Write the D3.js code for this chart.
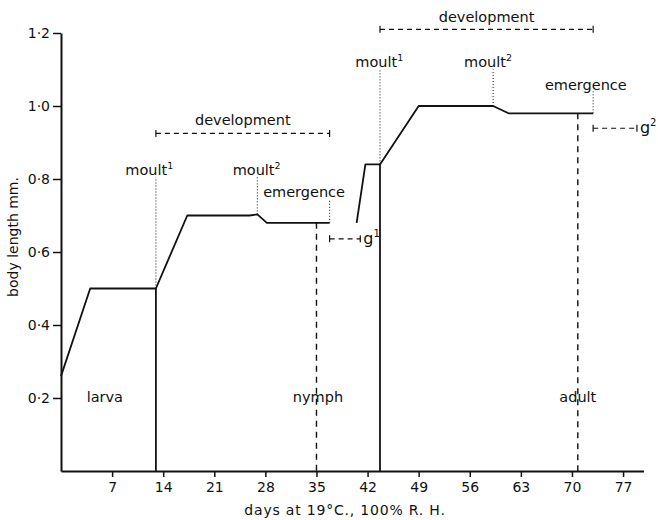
<!DOCTYPE html>
<html>
<head>
<meta charset="utf-8">
<script src="https://cdn.jsdelivr.net/npm/d3@7"></script>
<style>
	body { margin: 0; background: #fff; }
	svg text { font-family: "DejaVu Sans", sans-serif; fill: #111; }
</style>
</head>
<body>
<svg id="chart" width="658" height="520"></svg>
<script>
// growth curve, first stage (larva -> nymph)
const daysA = [0, 4, 13, 17.3, 25.8, 26.9, 28.2, 36.8];
const lengthA = [0.26, 0.5, 0.5, 0.7, 0.7, 0.703, 0.68, 0.68];
// growth curve, second stage (nymph -> adult)
const daysB = [40.5, 41.7, 43.7, 49, 59.2, 61.3, 72.9];
const lengthB = [0.68, 0.84, 0.84, 1.0, 1.0, 0.98, 0.98];

// solid drops at the first moult of each stage
const dropDays = [13, 43.7];
const dropLengths = [0.5, 0.84];

// dotted event markers
const eventNames = ["moult", "moult", "emergence", "moult", "moult", "emergence"];
const eventSup = ["1", "2", "", "1", "2", ""];
const eventDays = [13, 26.9, 36.8, 43.7, 59.2, 72.9];
const eventFrom = [0.5, 0.703, 0.68, 0.84, 1.0, 0.98];
const eventTo = [0.805, 0.805, 0.745, 1.1, 1.1, 1.04];
const eventLabelDays = [12.1, 26.8, 33.3, 43.6, 58.5, 71.9];
const eventLabelLen = [0.811, 0.811, 0.751, 1.108, 1.108, 1.044];

// dashed stage lines
const stageNames = ["larva", "nymph", "adult"];
const stageLabelDays = [6, 35.2, 70.8];
const stageLineDays = [null, 35, 70.8];
const stageLineFrom = [null, 0.68, 0.98];

// brackets
const devSpans = [[13, 36.8], [43.7, 72.9]];
const devLevels = [0.925, 1.21];
const devLabelLen = [0.948, 1.231];
const gSpans = [[36.8, 41], [72.9, 78.9]];
const gLevels = [0.636, 0.939];
const gSup = ["1", "2"];

const xTicks = [7, 14, 21, 28, 35, 42, 49, 56, 63, 70, 77];
const yTicks = [0.2, 0.4, 0.6, 0.8, 1.0, 1.2];

const svg = d3.select("#chart");
const x = d3.scaleLinear().domain([0, 79.8]).range([61, 643.5]);
const y = d3.scaleLinear().domain([0, 1.2]).range([471, 33]);
const ink = "#111";

// axes
const xAxis = svg.append("g")
	.attr("transform", `translate(0,${y(0)})`)
	.call(d3.axisBottom(x).tickValues(xTicks).tickSize(6).tickSizeOuter(0).tickPadding(5));
const yAxis = svg.append("g")
	.attr("transform", `translate(${x(0)},0)`)
	.call(d3.axisLeft(y).tickValues(yTicks).tickSize(8).tickSizeOuter(0).tickPadding(3)
		.tickFormat(d => d.toFixed(1).replace(".", "·")));
[xAxis, yAxis].forEach(a => {
	a.select(".domain").attr("stroke", ink).attr("stroke-width", 2);
	a.selectAll(".tick line").attr("stroke", ink).attr("stroke-width", 1.5);
	a.selectAll(".tick text").attr("font-size", 14).attr("font-family", "DejaVu Sans").attr("fill", ink);
});

svg.append("text")
	.attr("x", 345).attr("y", 515)
	.attr("text-anchor", "middle").attr("font-size", 14).attr("letter-spacing", 0.8)
	.text("days at 19°C., 100% R. H.");
svg.append("text")
	.attr("transform", "translate(18,237) rotate(-90)")
	.attr("text-anchor", "middle").attr("font-size", 14)
	.text("body length mm.");

// growth curves
const line = d3.line().x(d => x(d[0])).y(d => y(d[1]));
[[daysA, lengthA], [daysB, lengthB]].forEach(([ds, ls]) => {
	svg.append("path")
		.datum(d3.zip(ds, ls))
		.attr("d", line)
		.attr("fill", "none").attr("stroke", ink).attr("stroke-width", 1.8)
		.attr("stroke-linejoin", "round");
});
dropDays.forEach((d, i) => {
	svg.append("line")
		.attr("x1", x(d)).attr("x2", x(d))
		.attr("y1", y(dropLengths[i])).attr("y2", y(0))
		.attr("stroke", ink).attr("stroke-width", 1.8);
});

// event markers
eventDays.forEach((d, i) => {
	svg.append("line")
		.attr("x1", x(d)).attr("x2", x(d))
		.attr("y1", y(eventFrom[i])).attr("y2", y(eventTo[i]))
		.attr("stroke", ink).attr("stroke-width", 1).attr("stroke-dasharray", "1,2");
	const t = svg.append("text")
		.attr("x", x(eventLabelDays[i])).attr("y", y(eventLabelLen[i]))
		.attr("text-anchor", "middle").attr("font-size", 14.5)
		.text(eventNames[i]);
	if (eventSup[i]) {
		t.append("tspan").attr("dy", -6).attr("font-size", 9.5).text(eventSup[i]);
	}
});

// stage lines and labels
stageNames.forEach((s, i) => {
	if (stageLineDays[i] != null) {
		svg.append("line")
			.attr("x1", x(stageLineDays[i])).attr("x2", x(stageLineDays[i]))
			.attr("y1", y(stageLineFrom[i])).attr("y2", y(0))
			.attr("stroke", ink).attr("stroke-width", 1.4).attr("stroke-dasharray", "6,5");
	}
	svg.append("text")
		.attr("x", x(stageLabelDays[i])).attr("y", y(0.19))
		.attr("text-anchor", "middle").attr("font-size", 14.5)
		.text(s);
});

// brackets
function bracket(span, level) {
	const g = svg.append("g").attr("stroke", ink).attr("stroke-width", 1.2);
	g.append("line")
		.attr("x1", x(span[0])).attr("x2", x(span[1]))
		.attr("y1", y(level)).attr("y2", y(level))
		.attr("stroke-dasharray", "5,4");
	span.forEach(d => {
		g.append("line")
			.attr("x1", x(d)).attr("x2", x(d))
			.attr("y1", y(level) - 3.5).attr("y2", y(level) + 3.5);
	});
}
devSpans.forEach((s, i) => {
	bracket(s, devLevels[i]);
	svg.append("text")
		.attr("x", x((s[0] + s[1]) / 2)).attr("y", y(devLabelLen[i]))
		.attr("text-anchor", "middle").attr("font-size", 14.5)
		.text("development");
});
gSpans.forEach((s, i) => {
	bracket(s, gLevels[i]);
	const t = svg.append("text")
		.attr("x", x(s[1]) + 3).attr("y", y(gLevels[i]) + 5)
		.attr("font-size", 16).text("g");
	t.append("tspan").attr("dy", -7).attr("font-size", 10).text(gSup[i]);
});
</script>
</body>
</html>
